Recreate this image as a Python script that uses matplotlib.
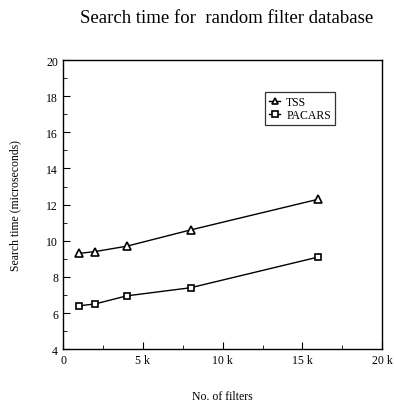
import matplotlib
matplotlib.use("Agg")
import matplotlib.pyplot as plt
from matplotlib.ticker import MultipleLocator, FuncFormatter

plt.rcParams['font.family'] = ['Liberation Serif', 'DejaVu Serif']

# datos
filters = [1000, 2000, 4000, 8000, 16000]
tss = [9.3, 9.4, 9.7, 10.6, 12.3]
pacars = [6.4, 6.5, 6.95, 7.4, 9.1]

fig = plt.figure(figsize=(3.94, 4.02), dpi=100)
ax = fig.add_axes([0.160, 0.129, 0.810, 0.719])

ax.plot(filters, tss, color='black', lw=1.0, marker='^', ms=6,
        mfc='white', mec='black', mew=1.2, label='TSS')
ax.plot(filters, pacars, color='black', lw=1.0, marker='s', ms=5,
        mfc='white', mec='black', mew=1.2, label='PACARS')

ax.set_xlim(0, 20000)
ax.set_ylim(4, 20)
ax.xaxis.set_major_locator(MultipleLocator(5000))
ax.xaxis.set_minor_locator(MultipleLocator(2500))
ax.yaxis.set_major_locator(MultipleLocator(2))
ax.yaxis.set_minor_locator(MultipleLocator(1))
ax.xaxis.set_major_formatter(FuncFormatter(lambda v, p: '0' if v == 0 else '%d k' % (v / 1000)))
ax.tick_params(which='both', direction='in', labelsize=8.5, top=False, right=False)
ax.tick_params(which='major', length=5)
ax.tick_params(which='minor', length=3)

for s in ax.spines.values():
    s.set_linewidth(1.0)

ax.set_xlabel('No. of filters', fontsize=8.5, labelpad=17)
ax.set_ylabel('Search time (microseconds)', fontsize=8.5, labelpad=18)
fig.text(0.574, 0.955, 'Search time for  random filter database', ha='center',
         va='center', fontsize=13.5)

leg = ax.legend(loc='upper left', bbox_to_anchor=(0.633, 0.889), fontsize=8.5,
                frameon=True, fancybox=False, edgecolor='black', handlelength=1.0,
                handletextpad=0.5, borderpad=0.3, labelspacing=0.15, markerscale=0.8,
                borderaxespad=0)
leg.get_frame().set_linewidth(0.9)

fig.savefig('out.png', dpi=100)
